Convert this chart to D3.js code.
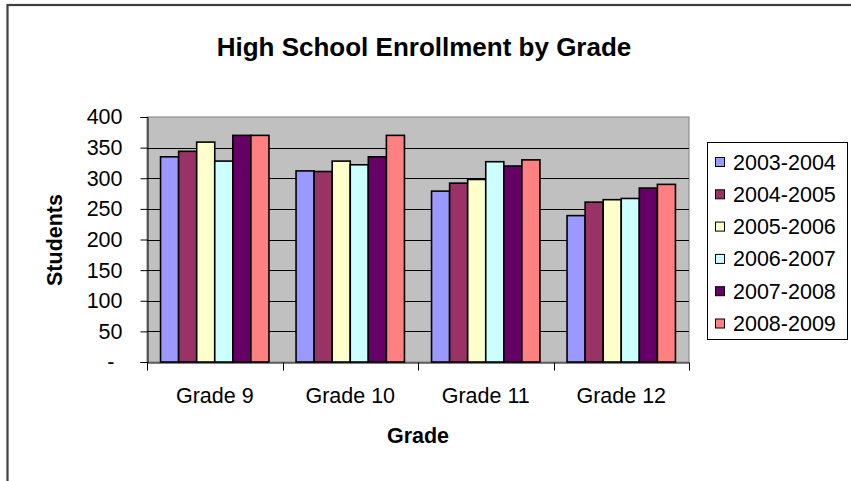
<!DOCTYPE html>
<html>
<head>
<meta charset="utf-8">
<script src="https://cdn.jsdelivr.net/npm/d3@7"></script>
<style>
  html, body { margin: 0; padding: 0; background: #fff; }
  svg { display: block; font-family: "Liberation Sans", Arial, sans-serif; }
</style>
</head>
<body>
<svg id="chart" width="851" height="481"></svg>
<script>
const categories = ["Grade 9", "Grade 10", "Grade 11", "Grade 12"];
const seriesNames = ["2003-2004", "2004-2005", "2005-2006", "2006-2007", "2007-2008", "2008-2009"];
const values2003 = [335, 312, 279, 239];
const values2004 = [344, 311, 292, 261];
const values2005 = [359, 328, 298, 265];
const values2006 = [328, 322, 327, 267];
const values2007 = [370, 335, 320, 284];
const values2008 = [370, 370, 330, 290];
const seriesColors = ["#9999FF", "#993366", "#FFFFCC", "#CCFFFF", "#660066", "#FF8080"];
const yTicks = [0, 50, 100, 150, 200, 250, 300, 350, 400];

const seriesValues = [values2003, values2004, values2005, values2006, values2007, values2008];

const svg = d3.select("#chart");
const plot = { left: 147, right: 689, top: 117, bottom: 362 };

// outer chart border
svg.append("rect")
  .attr("x", 7.5).attr("y", 5).attr("width", 900).attr("height", 600)
  .attr("fill", "#fff").attr("stroke", "#404040").attr("stroke-width", 2.2);

const x = d3.scaleBand().domain(categories).range([plot.left, plot.right]).padding(0);
const y = d3.scaleLinear().domain([0, 400]).range([plot.bottom, plot.top]);
const barW = x.bandwidth() / 7.5;
const xs = d3.scaleBand().domain(seriesNames)
  .range([barW * 0.75, barW * 0.75 + barW * 6]).padding(0);

// plot background
svg.append("rect")
  .attr("x", plot.left).attr("y", plot.top)
  .attr("width", plot.right - plot.left).attr("height", plot.bottom - plot.top)
  .attr("fill", "#C0C0C0").attr("stroke", "#808080").attr("stroke-width", 1);

// gridlines
svg.append("g").selectAll("line").data(yTicks.filter(d => d > 0 && d < 400)).join("line")
  .attr("x1", plot.left).attr("x2", plot.right)
  .attr("y1", d => Math.round(y(d)) + 0.5).attr("y2", d => Math.round(y(d)) + 0.5)
  .attr("stroke", "#000").attr("stroke-width", 1);

// bars
const groups = svg.append("g").selectAll("g").data(seriesNames).join("g")
  .attr("fill", (d, i) => seriesColors[i]);
groups.selectAll("rect")
  .data((s, si) => categories.map((c, ci) => ({ c, s, v: seriesValues[si][ci] })))
  .join("rect")
  .attr("x", d => x(d.c) + xs(d.s))
  .attr("y", d => y(d.v))
  .attr("width", xs.bandwidth())
  .attr("height", d => y(0) - y(d.v))
  .attr("stroke", "#000").attr("stroke-width", 1.6);

// y axis
const yAxis = d3.axisLeft(y).tickValues(yTicks).tickSize(7).tickPadding(18)
  .tickFormat(d => d === 0 ? "-" : d);
const yg = svg.append("g").attr("transform", `translate(${plot.left + 0.5},0)`).call(yAxis);
yg.select(".domain").attr("stroke", "#000");
yg.selectAll(".tick line").attr("stroke", "#000");
yg.selectAll(".tick text")
  .attr("font-size", "21.5px").attr("fill", "#000")
  .attr("font-family", "Liberation Sans, Arial, sans-serif")
  .attr("dx", d => d === 0 ? -8 : 0);

// x axis
const xAxis = d3.axisBottom(x).tickSize(0).tickPadding(25);
const xg = svg.append("g").attr("transform", `translate(0,${plot.bottom + 0.5})`).call(xAxis);
xg.select(".domain").attr("stroke", "#000");
xg.selectAll(".tick text")
  .attr("font-size", "21.5px").attr("fill", "#000")
  .attr("font-family", "Liberation Sans, Arial, sans-serif");
// boundary tick marks
xg.append("g").selectAll("line")
  .data(categories.map(c => x(c)).concat([x(categories[categories.length - 1]) + x.bandwidth()]))
  .join("line")
  .attr("x1", d => Math.round(d) + 0.5).attr("x2", d => Math.round(d) + 0.5)
  .attr("y1", 0).attr("y2", 8).attr("stroke", "#000");

// title
svg.append("text").attr("x", 424).attr("y", 56).attr("text-anchor", "middle")
  .attr("font-size", "26px").attr("font-weight", "bold").text("High School Enrollment by Grade");

// axis titles
svg.append("text").attr("x", 418).attr("y", 443).attr("text-anchor", "middle")
  .attr("font-size", "21.5px").attr("font-weight", "bold").text("Grade");
svg.append("text").attr("transform", "translate(62,240) rotate(-90)").attr("text-anchor", "middle")
  .attr("font-size", "21.5px").attr("font-weight", "bold").text("Students");

// legend
const lg = svg.append("g");
lg.append("rect").attr("x", 707.5).attr("y", 142.5).attr("width", 140).attr("height", 197)
  .attr("fill", "#fff").attr("stroke", "#000").attr("stroke-width", 1);
const items = lg.selectAll("g.item").data(seriesNames).join("g")
  .attr("class", "item")
  .attr("transform", (d, i) => `translate(0,${162 + i * 32.3})`);
items.append("rect").attr("x", 715.5).attr("y", -4.5).attr("width", 9).attr("height", 9)
  .attr("fill", (d, i) => seriesColors[i]).attr("stroke", "#000").attr("stroke-width", 1);
items.append("text").attr("x", 733).attr("y", 7.5).attr("font-size", "21.5px").text(d => d);
</script>
</body>
</html>
